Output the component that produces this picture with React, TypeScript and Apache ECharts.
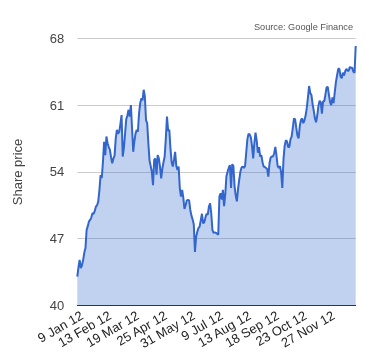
import React, { useEffect, useRef } from "react";
import * as echarts from "echarts";

// Share price, one value per trading day
const prices: number[] = [
  43.0, 44.0, 44.75, 43.9, 44.2, 44.75, 45.5, 46.0, 47.9, 48.3,
  48.8, 48.95, 49.2, 49.65, 49.6, 49.9, 50.35, 50.5, 50.9, 52.1,
  53.65, 53.35, 55.0, 57.15, 55.75, 57.7, 57.0, 56.6, 56.3, 55.5,
  54.9, 55.4, 55.7, 57.5, 58.4, 58.0, 58.2, 59.0, 59.95, 55.6,
  56.5, 58.0, 59.5, 59.9, 60.5, 59.8, 61.0, 58.6, 56.1, 57.2,
  58.0, 58.4, 58.2, 60.1, 61.2, 61.7, 61.5, 62.6, 61.9, 59.4,
  59.1, 57.0, 55.2, 54.6, 54.0, 52.6, 55.25, 55.4, 53.7, 55.75,
  55.4, 54.55, 53.3, 54.3, 55.0, 55.6, 57.5, 59.8, 58.3, 58.4,
  56.4, 55.0, 54.55, 55.25, 56.1, 54.6, 54.2, 54.55, 52.3, 51.4,
  52.1, 51.3, 50.1, 50.5, 51.0, 51.05, 51.0, 50.0, 49.4, 49.0,
  48.5, 45.6, 47.2, 47.7, 48.1, 48.25, 48.9, 49.6, 48.6, 48.7,
  49.2, 49.6, 49.5, 50.35, 50.7, 49.65, 47.9, 47.6, 47.65, 47.6,
  47.5, 47.4, 51.4, 51.75, 51.1, 52.1, 50.4, 51.6, 53.5, 54.0,
  54.4, 54.7, 52.3, 54.8, 54.6, 52.5, 51.5, 50.9, 52.2, 53.15,
  54.0, 54.45, 54.55, 54.4, 54.6, 56.0, 57.4, 58.0, 57.9, 57.6,
  56.7, 55.4, 57.0, 58.1, 57.3, 56.0, 56.6, 55.6, 55.75, 55.0,
  54.55, 54.5, 54.4, 54.3, 53.5, 54.9, 55.5, 55.6, 55.6, 55.95,
  56.6, 55.7, 54.6, 54.4, 54.6, 53.9, 52.3, 55.3, 56.7, 57.3,
  57.2, 56.6, 56.6, 57.4, 57.7, 58.6, 59.6, 59.5, 58.6, 57.8,
  57.5, 58.8, 59.45, 59.6, 59.1, 59.4, 59.9, 60.7, 61.8, 63.0,
  62.25, 62.05, 61.1, 60.4, 59.6, 59.2, 59.9, 60.9, 61.45, 61.3,
  60.1, 61.4, 61.4, 62.1, 62.85, 62.9, 62.1, 61.3, 61.0, 61.8,
  61.2, 62.3, 63.4, 64.1, 64.8, 64.8, 64.0, 63.8, 64.4, 64.1,
  64.55, 64.8, 64.6, 64.6, 65.0, 64.9, 64.9, 64.5, 64.4, 67.2,
];

// Trading-day positions of the date labels and their texts
const tickDays: number[] = [4, 28, 52, 76, 100, 124, 148, 172, 196, 220];
const tickLabels: string[] = [
  "9 Jan 12", "13 Feb 12", "19 Mar 12", "25 Apr 12", "31 May 12",
  "9 Jul 12", "13 Aug 12", "18 Sep 12", "23 Oct 12", "27 Nov 12",
];

const yMin = 40;
const yMax = 68;
const yStep = 7;

export default function App() {
  const ref = useRef<HTMLDivElement>(null);

  useEffect(() => {
    if (!ref.current) return;
    const chart = echarts.init(ref.current, null, { renderer: "svg" });
    const days = prices.map((_, i) => String(i));
    const labelOf: Record<number, string> = {};
    tickDays.forEach((d, k) => (labelOf[d] = tickLabels[k]));

    chart.setOption({
      animation: false,
      textStyle: { fontFamily: "Arial, 'Liberation Sans', sans-serif" },
      grid: { left: 77.3, right: 24.3, top: 38.3, bottom: 54.7, containLabel: false },
      xAxis: {
        type: "category",
        data: days,
        boundaryGap: false,
        axisLine: { show: true, lineStyle: { color: "#333333", width: 1 } },
        axisTick: { show: false },
        splitLine: { show: false },
        axisLabel: {
          interval: (index: number) => labelOf[index] !== undefined,
          formatter: (_v: string, index: number) => labelOf[index] ?? "",
          rotate: 30,
          margin: 9,
          fontSize: 13,
          color: "#222222",
          hideOverlap: false,
        },
      },
      yAxis: {
        type: "value",
        min: yMin,
        max: yMax,
        interval: yStep,
        axisLine: { show: false },
        axisTick: { show: false },
        axisLabel: { fontSize: 13, color: "#444444", margin: 13 },
        splitLine: { show: true, lineStyle: { color: "#cccccc", width: 1 } },
      },
      graphic: [
        {
          type: "text",
          x: 17,
          y: 172,
          rotation: Math.PI / 2,
          style: {
            text: "Share price",
            fontSize: 13,
            fill: "#444444",
            align: "center",
            verticalAlign: "middle",
            fontFamily: "Arial, 'Liberation Sans', sans-serif",
          },
        },
        {
          type: "text",
          x: 353,
          y: 27,
          style: {
            text: "Source: Google Finance",
            fontSize: 9.2,
            fill: "#555555",
            align: "right",
            verticalAlign: "middle",
            fontFamily: "Arial, 'Liberation Sans', sans-serif",
          },
        },
      ],
      series: [
        {
          type: "line",
          data: prices,
          showSymbol: false,
          symbol: "none",
          lineStyle: { color: "#3366cc", width: 2 },
          areaStyle: { color: "#3366cc", opacity: 0.3 },
          z: 3,
        },
      ],
    });
    return () => chart.dispose();
  }, []);

  return (
    <div
      ref={ref}
      style={{ position: "fixed", left: 0, top: 0, width: 380, height: 360 }}
    />
  );
}
